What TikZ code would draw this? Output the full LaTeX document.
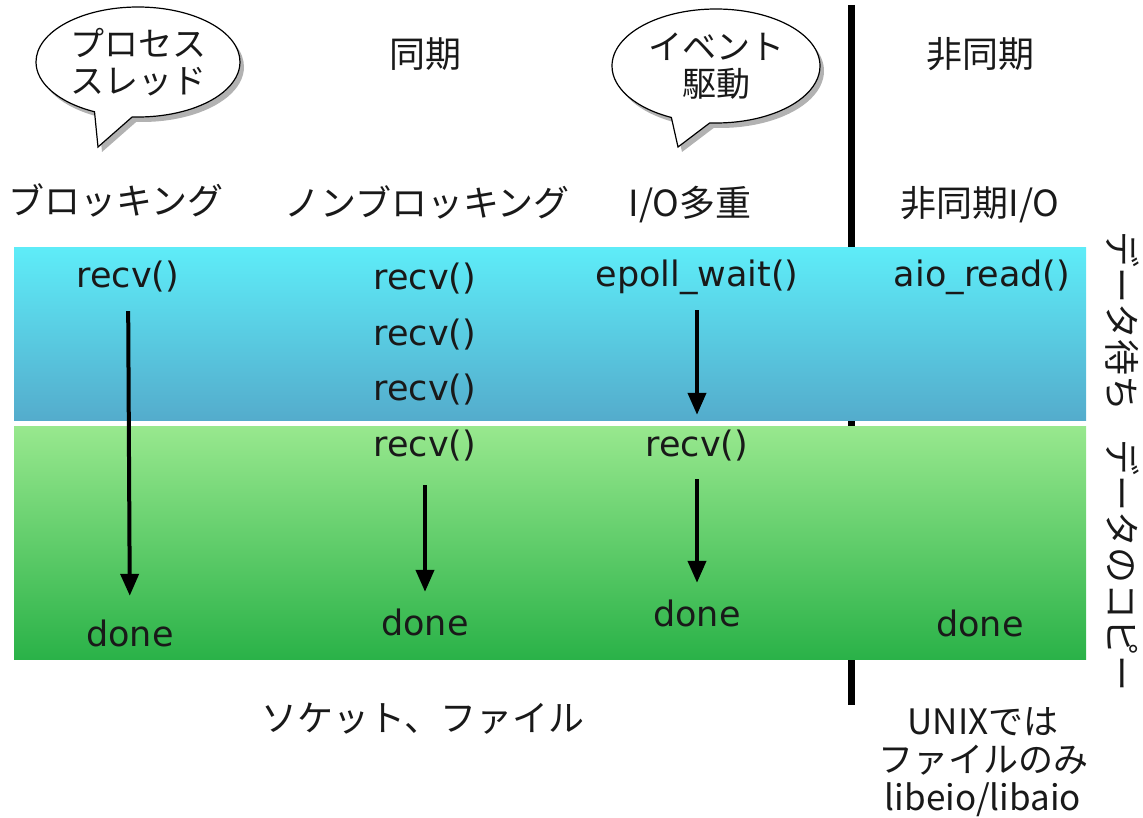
\documentclass[tikz,border=0pt]{standalone}
\usepackage{fontspec}
\setmainfont{DejaVu Sans}
\newfontfamily\jp{Noto Sans CJK JP}
\usetikzlibrary{arrows.meta, shapes.callouts, shadows}
\definecolor{waittop}{RGB}{94,236,248}
\definecolor{waitbot}{RGB}{84,172,204}
\definecolor{copytop}{RGB}{152,232,142}
\definecolor{copybot}{RGB}{42,178,72}
\definecolor{ink}{RGB}{25,25,25}
\tikzset{
	lbl/.style={inner sep=0pt, text height=26pt, text depth=6pt, text=ink, font=\fontsize{35}{40}\selectfont},
	jlbl/.style={lbl, font=\jp\fontsize{36}{38}\selectfont},
	flow/.style={line width=4pt, -{Triangle[length=22pt,width=18pt]}, shorten <=17pt, shorten >=17pt},
	bubble/.style={ellipse callout, draw, line width=1.2pt, fill=white, inner sep=0pt, align=center,
		text=ink, font=\jp\fontsize{34}{37}\selectfont, callout pointer arc=22,
		drop shadow={shadow xshift=4pt, shadow yshift=-5pt, opacity=0.3, fill=black}},
}
\begin{document}
\begin{tikzpicture}[x=1pt, y=-1pt]
	\useasboundingbox (0,0) rectangle (1143,818);%
	% separator sync / async
	\draw[line width=7pt] (851,5) -- (851,705);%
	% bands
	\shade[top color=waittop, bottom color=waitbot] (14,248) rectangle (1086,420);%
	\shade[top color=copytop, bottom color=copybot] (14,426) rectangle (1086,659);%
	%
	\node[bubble, minimum width=204pt, minimum height=110pt, callout absolute pointer={(98,147)}] (proc) at (138,62) {プロセス\\スレッド};%
	\node[bubble, minimum width=208pt, minimum height=114pt, callout absolute pointer={(678,147)}] (event) at (716,66) {イベント\\駆動};%
	\node[jlbl] (sync) at (425,58) {同期};%
	\node[jlbl] (async) at (980,58) {非同期};%
	%
	\node[jlbl] (blocking) at (116,205) {ブロッキング};%
	\node[jlbl] (nonblocking) at (427,207) {ノンブロッキング};%
	\node[jlbl] (multiplex) at (690,207) {I/O多重};%
	\node[jlbl] (asyncio) at (980,207) {非同期I/O};%
	%
	\node[lbl] (recvb) at (128,278) {recv()};%
	\node[lbl] (doneb) at (130,636) {done};%
	\node[lbl] (recvn1) at (425,280) {recv()};%
	\node[lbl] (recvn2) at (425,335) {recv()};%
	\node[lbl] (recvn3) at (425,390) {recv()};%
	\node[lbl] (recvn4) at (425,446) {recv()};%
	\node[lbl] (donen) at (425,625) {done};%
	\node[lbl] (epoll) at (697,277) {epoll\_wait()};%
	\node[lbl] (recvm) at (697,446) {recv()};%
	\node[lbl] (donem) at (697,616) {done};%
	\node[lbl] (aio) at (982,277) {aio\_read()};%
	\node[lbl] (donea) at (980,626) {done};%
	%
	\draw[flow, shorten >=24pt] (recvb) -- (doneb);%
	\draw[flow, shorten <=23pt] (recvn4) -- (donen);%
	\draw[flow, shorten >=15pt] (epoll) -- (recvm);%
	\draw[flow] (recvm) -- (donem);%
	%
	\node[jlbl, rotate=-90] (waiting) at (1118,322) {データ待ち};%
	\node[jlbl, rotate=-90] (copying) at (1118,565) {データのコピー};%
	%
	\node[jlbl] (files) at (423,721) {ソケット、ファイル};%
	\node[text=ink, align=center, inner sep=0pt, font=\jp\fontsize{35}{38}\selectfont] (unix) at (983,762) {UNIXでは\\ファイルのみ\\libeio/libaio};%
\end{tikzpicture}
\end{document}
